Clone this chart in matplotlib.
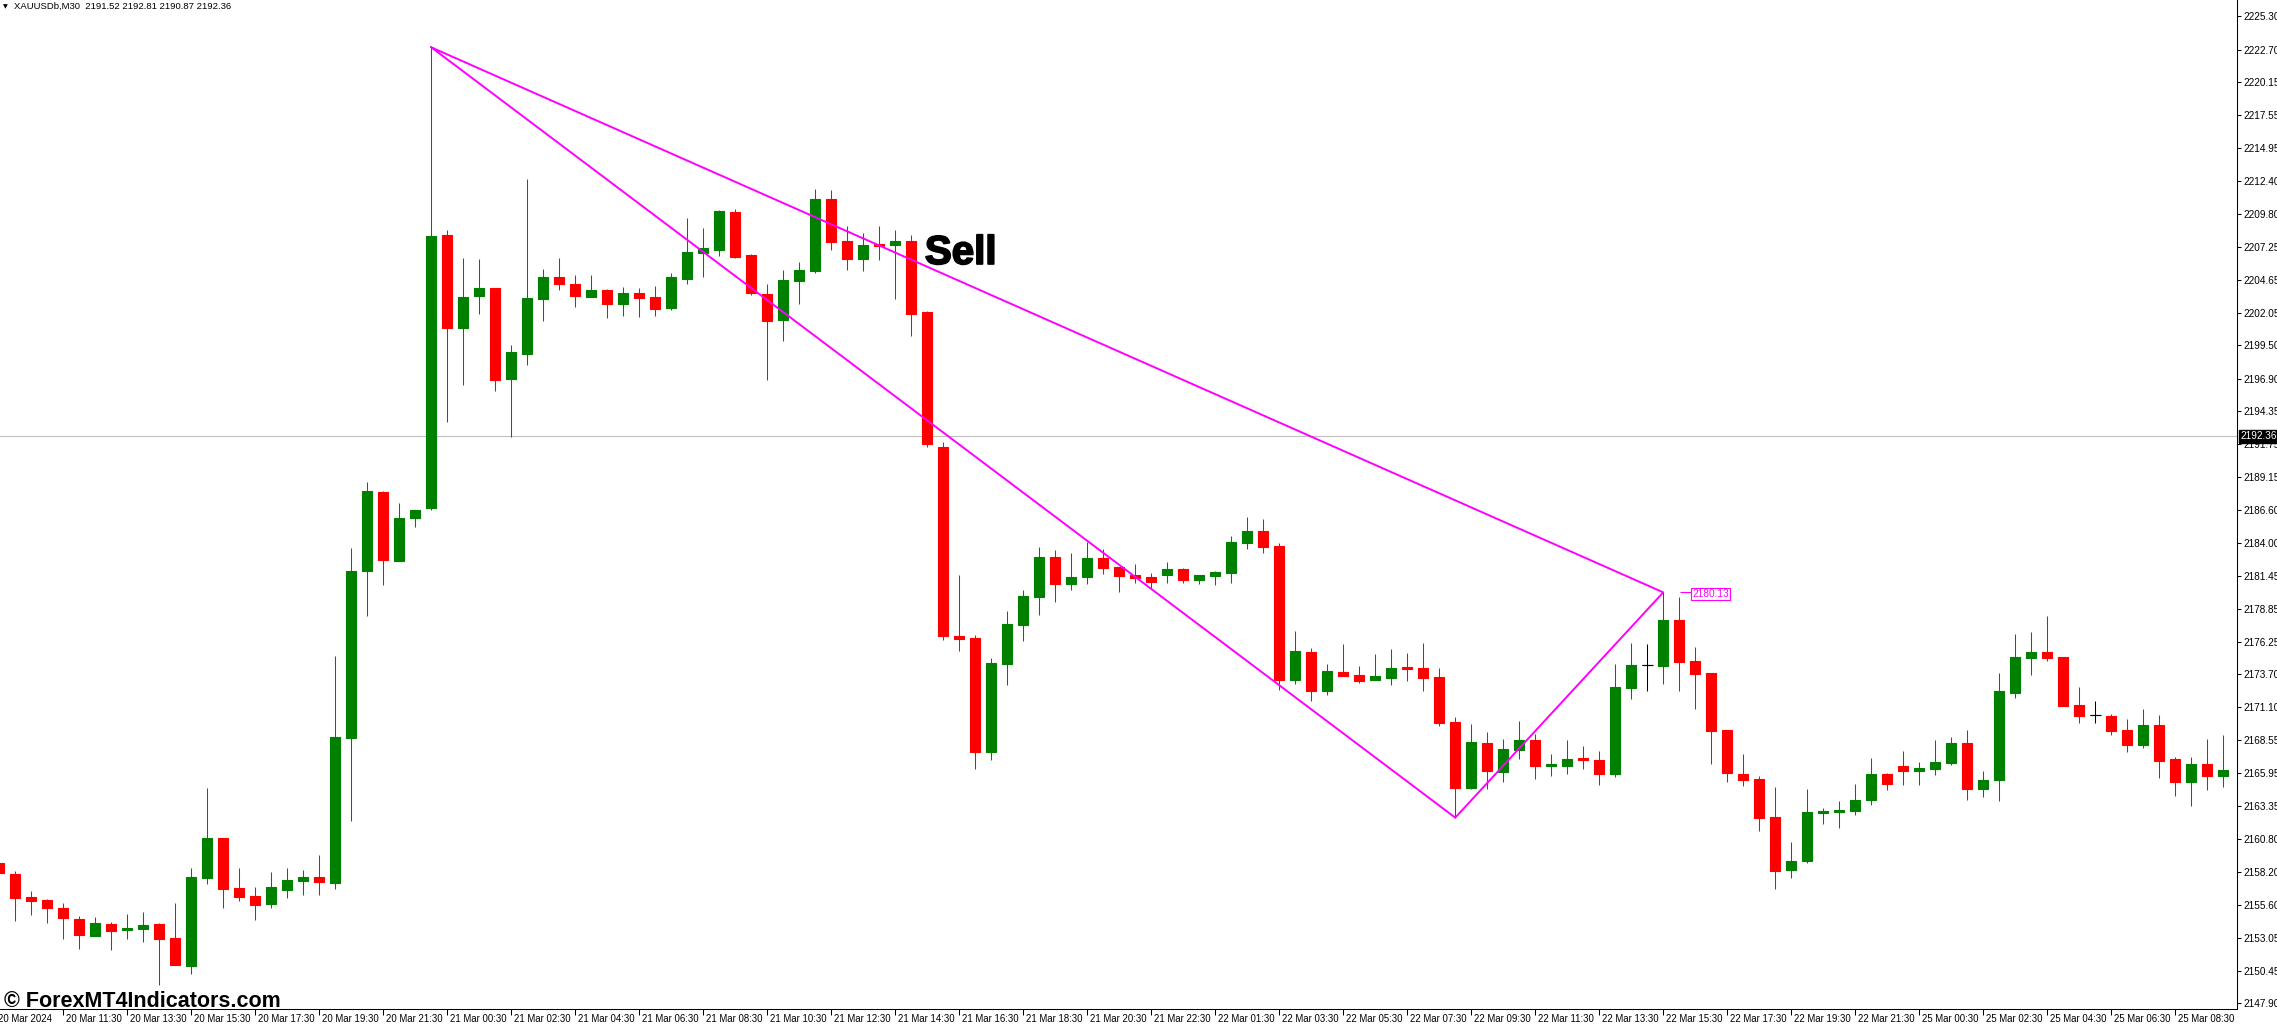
import numpy as np
import matplotlib.pyplot as plt
import matplotlib.patheffects as pe

plt.rcParams['font.family'] = ['Liberation Sans', 'DejaVu Sans']

# ── data: XAUUSDb M30 candles ─────────────────────────────────────
opens = [
    2158.90, 2158.05, 2156.25, 2156.01, 2155.37, 2154.52, 2153.20, 2154.13, 2153.67, 2153.75,
    2154.13, 2153.01, 2150.86, 2157.76, 2160.86, 2156.94, 2156.33, 2155.72, 2156.80, 2157.52,
    2157.81, 2157.36, 2168.73, 2181.83, 2188.01, 2182.58, 2186.00, 2186.76, 2208.17, 2200.83,
    2203.41, 2204.02, 2196.88, 2198.85, 2203.18, 2204.86, 2204.31, 2203.32, 2203.84, 2202.77,
    2203.61, 2203.29, 2202.45, 2204.74, 2206.77, 2206.95, 2209.97, 2206.60, 2203.53, 2201.46,
    2204.58, 2205.33, 2210.98, 2207.70, 2206.29, 2207.46, 2207.40, 2207.70, 2202.12, 2191.56,
    2176.73, 2176.55, 2167.58, 2174.54, 2177.60, 2179.79, 2182.92, 2180.75, 2181.35, 2182.83,
    2182.13, 2181.50, 2181.35, 2181.52, 2181.97, 2181.13, 2181.44, 2181.68, 2184.03, 2184.95,
    2183.77, 2173.29, 2175.46, 2172.42, 2173.89, 2173.65, 2173.29, 2173.44, 2174.28, 2174.20,
    2173.49, 2169.96, 2164.81, 2168.32, 2166.07, 2167.79, 2168.55, 2166.54, 2166.54, 2167.14,
    2166.98, 2165.91, 2172.66, 2174.41, 2174.36, 2177.96, 2174.75, 2173.81, 2169.34, 2165.89,
    2165.49, 2162.51, 2158.38, 2159.09, 2162.85, 2162.93, 2163.01, 2163.87, 2165.89, 2166.51,
    2166.15, 2166.31, 2166.78, 2168.32, 2164.74, 2165.44, 2172.27, 2175.01, 2175.46, 2175.07,
    2171.30, 2170.49, 2170.44, 2169.34, 2168.19, 2169.73, 2167.06, 2165.29, 2166.67, 2165.76,
]
highs = [
    2159.20, 2158.26, 2156.70, 2156.05, 2155.77, 2154.76, 2154.68, 2154.28, 2154.89, 2155.05,
    2154.21, 2155.77, 2158.53, 2164.78, 2160.86, 2158.53, 2157.02, 2158.21, 2158.53, 2158.37,
    2159.56, 2175.10, 2183.61, 2188.78, 2188.09, 2187.13, 2186.60, 2222.88, 2208.54, 2206.37,
    2206.28, 2204.02, 2199.52, 2212.55, 2205.50, 2206.37, 2205.03, 2205.03, 2203.93, 2204.08,
    2204.02, 2204.19, 2205.18, 2209.50, 2208.72, 2210.11, 2210.20, 2206.69, 2204.31, 2205.42,
    2206.05, 2211.76, 2211.70, 2208.85, 2208.31, 2208.85, 2208.55, 2208.13, 2202.18, 2191.89,
    2181.53, 2176.79, 2174.99, 2178.68, 2180.33, 2183.70, 2183.45, 2183.21, 2184.08, 2183.57,
    2182.13, 2182.35, 2181.65, 2182.51, 2182.05, 2181.50, 2181.81, 2184.55, 2186.04, 2185.89,
    2184.01, 2177.10, 2175.77, 2174.51, 2176.08, 2174.36, 2175.30, 2175.69, 2175.38, 2176.16,
    2174.20, 2170.36, 2169.81, 2169.18, 2168.63, 2170.04, 2169.02, 2167.46, 2168.55, 2168.08,
    2167.69, 2174.51, 2176.16, 2176.08, 2180.13, 2179.79, 2175.85, 2173.81, 2169.34, 2167.46,
    2165.73, 2164.87, 2160.55, 2164.71, 2163.22, 2163.77, 2165.10, 2167.14, 2165.97, 2167.69,
    2166.83, 2168.55, 2168.79, 2169.34, 2166.12, 2173.81, 2176.87, 2177.03, 2178.28, 2175.07,
    2172.71, 2171.61, 2170.59, 2170.20, 2170.99, 2170.52, 2167.22, 2167.22, 2168.63, 2168.95,
]
lows = [
    2157.90, 2154.34, 2154.84, 2154.23, 2152.91, 2152.19, 2153.20, 2152.11, 2152.96, 2152.67,
    2149.35, 2150.94, 2150.23, 2157.28, 2155.40, 2155.95, 2154.47, 2155.40, 2156.19, 2156.43,
    2156.43, 2156.88, 2162.16, 2178.30, 2180.74, 2182.58, 2185.28, 2186.61, 2193.49, 2196.39,
    2201.96, 2195.95, 2192.33, 2197.93, 2201.38, 2203.87, 2202.54, 2203.32, 2201.67, 2201.84,
    2201.76, 2201.84, 2202.31, 2204.28, 2204.89, 2206.54, 2206.37, 2203.47, 2196.82, 2199.87,
    2202.78, 2205.21, 2206.98, 2205.45, 2205.33, 2206.23, 2203.17, 2200.23, 2191.56, 2176.43,
    2175.50, 2166.26, 2167.01, 2172.83, 2176.28, 2178.35, 2179.34, 2180.33, 2180.81, 2181.59,
    2180.18, 2180.90, 2180.51, 2180.89, 2180.89, 2180.82, 2180.74, 2180.89, 2183.56, 2183.25,
    2172.50, 2172.97, 2171.64, 2172.11, 2173.60, 2173.05, 2173.29, 2172.89, 2173.21, 2172.42,
    2169.68, 2162.46, 2164.74, 2164.74, 2165.28, 2167.09, 2165.52, 2165.75, 2165.91, 2166.30,
    2165.05, 2165.68, 2171.80, 2172.42, 2172.95, 2172.42, 2171.01, 2166.70, 2165.28, 2164.97,
    2161.44, 2156.89, 2157.75, 2158.93, 2161.99, 2161.68, 2162.70, 2163.48, 2164.66, 2165.05,
    2165.05, 2165.83, 2166.62, 2163.88, 2164.11, 2163.80, 2171.87, 2173.68, 2174.78, 2171.25,
    2169.91, 2169.91, 2168.97, 2167.64, 2167.95, 2165.60, 2164.19, 2163.40, 2164.66, 2164.89,
]
closes = [
    2158.10, 2156.19, 2155.95, 2155.40, 2154.55, 2153.28, 2154.21, 2153.60, 2153.81, 2154.05,
    2152.96, 2150.94, 2157.81, 2160.86, 2156.88, 2156.27, 2155.64, 2157.02, 2157.57, 2157.81,
    2157.44, 2168.79, 2181.83, 2188.09, 2182.70, 2185.97, 2186.58, 2208.08, 2200.83, 2203.29,
    2204.02, 2196.82, 2198.97, 2203.21, 2204.86, 2204.28, 2203.41, 2203.84, 2202.71, 2203.61,
    2203.24, 2202.39, 2204.86, 2206.83, 2207.15, 2210.05, 2206.46, 2203.64, 2201.44, 2204.64,
    2205.42, 2210.98, 2207.64, 2206.29, 2207.37, 2207.32, 2207.70, 2202.00, 2191.77, 2176.70,
    2176.49, 2167.64, 2174.60, 2177.66, 2179.85, 2182.92, 2180.75, 2181.35, 2182.83, 2182.07,
    2181.38, 2181.26, 2180.96, 2181.97, 2181.13, 2181.50, 2181.73, 2184.08, 2184.95, 2183.72,
    2173.29, 2175.54, 2172.42, 2173.97, 2173.60, 2173.21, 2173.57, 2174.20, 2174.15, 2173.44,
    2169.91, 2164.81, 2168.40, 2166.15, 2167.85, 2168.55, 2166.54, 2166.67, 2167.06, 2167.01,
    2165.91, 2172.71, 2174.44, 2174.41, 2177.96, 2174.70, 2173.75, 2169.28, 2165.99, 2165.44,
    2162.46, 2158.30, 2159.06, 2162.91, 2162.98, 2163.09, 2163.87, 2165.89, 2165.13, 2166.15,
    2166.36, 2166.83, 2168.32, 2164.74, 2165.42, 2172.40, 2175.07, 2175.46, 2175.01, 2171.25,
    2170.46, 2170.49, 2169.29, 2168.19, 2169.73, 2166.93, 2165.29, 2166.67, 2165.76, 2166.20,
]

# time labels, one every 4 bars (2 hours)
time_labels = [
    "20 Mar 11:30", "20 Mar 13:30", "20 Mar 15:30", "20 Mar 17:30", "20 Mar 19:30", "20 Mar 21:30",
    "21 Mar 00:30", "21 Mar 02:30", "21 Mar 04:30", "21 Mar 06:30", "21 Mar 08:30", "21 Mar 10:30",
    "21 Mar 12:30", "21 Mar 14:30", "21 Mar 16:30", "21 Mar 18:30", "21 Mar 20:30", "21 Mar 22:30",
    "22 Mar 01:30", "22 Mar 03:30", "22 Mar 05:30", "22 Mar 07:30", "22 Mar 09:30", "22 Mar 11:30",
    "22 Mar 13:30", "22 Mar 15:30", "22 Mar 17:30", "22 Mar 19:30", "22 Mar 21:30",
    "25 Mar 00:30", "25 Mar 02:30", "25 Mar 04:30", "25 Mar 06:30", "25 Mar 08:30",
]
first_label = "20 Mar 2024"

price_ticks = [
    2225.30, 2222.70, 2220.15, 2217.55, 2214.95, 2212.40, 2209.80, 2207.25, 2204.65, 2202.05,
    2199.50, 2196.90, 2194.35, 2191.75, 2189.15, 2186.60, 2184.00, 2181.45, 2178.85, 2176.25,
    2173.70, 2171.10, 2168.55, 2165.95, 2163.35, 2160.80, 2158.20, 2155.60, 2153.05, 2150.45,
    2147.90,
]

bid_price = 2192.36
header = "XAUUSDb,M30  2191.52 2192.81 2190.87 2192.36"

# triangle drawn on the chart: spike high -> swing low -> swing high -> back
tri_bars = [27, 91, 104, 27]
tri_prices = [2222.88, 2162.46, 2180.13, 2222.88]
swing_label = "2180.13"

GREEN = '#008000'
RED = '#ff0000'
MAGENTA = '#ff00ff'

# ── figure ────────────────────────────────────────────────────────
W, H = 2277, 1026
fig = plt.figure(figsize=(W / 100, H / 100), dpi=100)
ax = fig.add_axes([0, 17 / H, 2237 / W, 1009 / H])

x = np.arange(len(opens))
o = np.array(opens)
c = np.array(closes)
cols = [GREEN if cc > oo else RED if cc < oo else 'black' for oo, cc in zip(o, c)]

ax.vlines(x, lows, highs, colors=cols, linewidth=0.75, zorder=2)
ax.bar(x, np.abs(c - o), bottom=np.minimum(o, c), width=0.6, color=cols,
       edgecolor=cols, linewidth=0.8, zorder=3)
doji = np.where(o == c)[0]
ax.hlines(o[doji], doji - 0.34, doji + 0.34, colors='black', linewidth=0.8, zorder=3)

# bid line
ax.axhline(bid_price, color='#c0c0c0', linewidth=0.8, zorder=1)

# triangle
ax.plot(tri_bars, tri_prices, color=MAGENTA, linewidth=1.4, zorder=4)
ax.hlines(tri_prices[2], 105.05, 105.72, colors=MAGENTA, linewidth=0.8, zorder=4)
ax.text(105.8, tri_prices[2] - 0.12, swing_label, ha='left', va='center', fontsize=7.3,
        color=MAGENTA, zorder=5,
        bbox=dict(boxstyle='square,pad=0.12', facecolor='white', edgecolor=MAGENTA, linewidth=0.8))

ax.text(57.85, 2205.89, "Sell", ha='left', va='baseline', fontsize=29,
        fontweight='bold', color='black', zorder=5,
        path_effects=[pe.withStroke(linewidth=1.3, foreground='black')])

# ── axes ──────────────────────────────────────────────────────────
ax.set_xlim(0.044, 139.86)
ax.set_ylim(2147.45, 2226.594)

for side in ['top', 'left']:
    ax.spines[side].set_visible(False)
for side in ['right', 'bottom']:
    ax.spines[side].set_linewidth(0.75)
    ax.spines[side].set_color('black')

ax.yaxis.tick_right()
ax.set_yticks(price_ticks)
ax.set_yticklabels([f"{p:.2f}" for p in price_ticks])
ax.tick_params(axis='y', direction='out', length=3, width=0.75, pad=1.5, labelsize=7.2)

label_bars = np.arange(4, 4 * len(time_labels) + 1, 4)
ax.set_xticks(label_bars)
ax.tick_params(axis='x', direction='out', length=4, width=0.75, labelbottom=False)
for b, lab in zip(label_bars, time_labels):
    ax.text(b + 0.15, -0.0095, lab, transform=ax.get_xaxis_transform(),
            ha='left', va='center', fontsize=6.9, clip_on=False)
fig.text(-2 / W, 1 - 1018.5 / H, first_label, ha='left', va='center', fontsize=6.9)

# current price tag on the price scale
ax.annotate(f"{bid_price:.2f}", xy=(1, bid_price), xycoords=('axes fraction', 'data'),
            xytext=(2.2, 0), textcoords='offset points', ha='left', va='center',
            fontsize=7.2, color='white', zorder=6, annotation_clip=False,
            bbox=dict(boxstyle='square,pad=0.12', facecolor='black', edgecolor='black'))

# header and watermark
fig.text(3 / W, 1 - 6.5 / H, "\u25BC", ha='left', va='center', fontsize=4.5,
         family='DejaVu Sans')
fig.text(14 / W, 1 - 6.5 / H, header, ha='left', va='center', fontsize=6.8)
fig.text(4 / W, 1 - 1007 / H, "\u00A9 ForexMT4Indicators.com", ha='left', va='baseline',
         fontsize=15.5, fontweight='bold', color='black')

fig.savefig("out.png", dpi=100)
